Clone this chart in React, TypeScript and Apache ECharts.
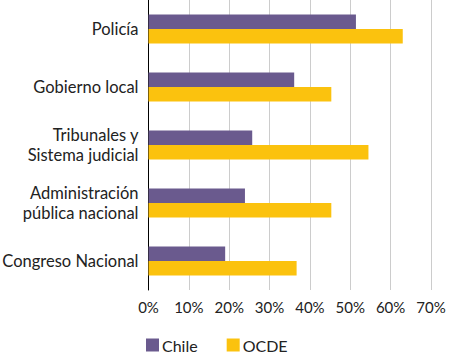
import React, { useEffect, useRef } from "react";
import * as echarts from "echarts";

const categories = [
  "Policía",
  "Gobierno local",
  "Tribunales y\nSistema judicial",
  "Administración\npública nacional",
  "Congreso Nacional",
];
const chile = [51.4, 36.1, 25.7, 23.9, 19.0];
const ocde = [63.0, 45.3, 54.5, 45.3, 36.7];

export default function App() {
  const ref = useRef<HTMLDivElement>(null);
  useEffect(() => {
    if (!ref.current) return;
    const chart = echarts.init(ref.current, null, { renderer: "svg" });
    const font = "Lato, 'Noto Sans', sans-serif";
    chart.setOption({
      animation: false,
      textStyle: { fontFamily: font },
      grid: {
        left: 148.5,
        right: 20,
        top: 0,
        height: 290,
        containLabel: false,
        outerBoundsMode: "none",
      },
      legend: {
        left: 141,
        top: 332,
        padding: 5,
        icon: "rect",
        itemWidth: 13,
        itemHeight: 13,
        itemGap: 29,
        textStyle: { fontFamily: font, fontSize: 16, color: "#222", padding: [0, 0, 0, -2] },
        data: ["Chile", "OCDE"],
      },
      xAxis: {
        type: "value",
        min: 0,
        max: 70,
        interval: 10,
        axisLabel: {
          formatter: "{value}%",
          fontFamily: font,
          fontSize: 15,
          color: "#222",
          margin: 9,
        },
        axisLine: { show: false },
        axisTick: { show: false },
        splitLine: { show: true, lineStyle: { color: "#cccccc", width: 1 } },
      },
      yAxis: {
        type: "category",
        data: categories,
        inverse: true,
        axisLine: { show: true, lineStyle: { color: "#000", width: 1 } },
        axisTick: { show: false },
        axisLabel: {
          fontFamily: font,
          fontSize: 16.5,
          color: "#222",
          margin: 10,
          lineHeight: 20,
          align: "right",
        },
      },
      series: [
        {
          name: "Chile",
          type: "bar",
          data: chile,
          barGap: "0%",
          barCategoryGap: "50%",
          itemStyle: { color: "#6a5a8e" },
        },
        {
          name: "OCDE",
          type: "bar",
          data: ocde,
          itemStyle: { color: "#fbc20e" },
        },
      ],
    });
    return () => chart.dispose();
  }, []);
  return (
    <div
      ref={ref}
      style={{ position: "absolute", left: 0, top: 0, width: 451, height: 356 }}
    />
  );
}
